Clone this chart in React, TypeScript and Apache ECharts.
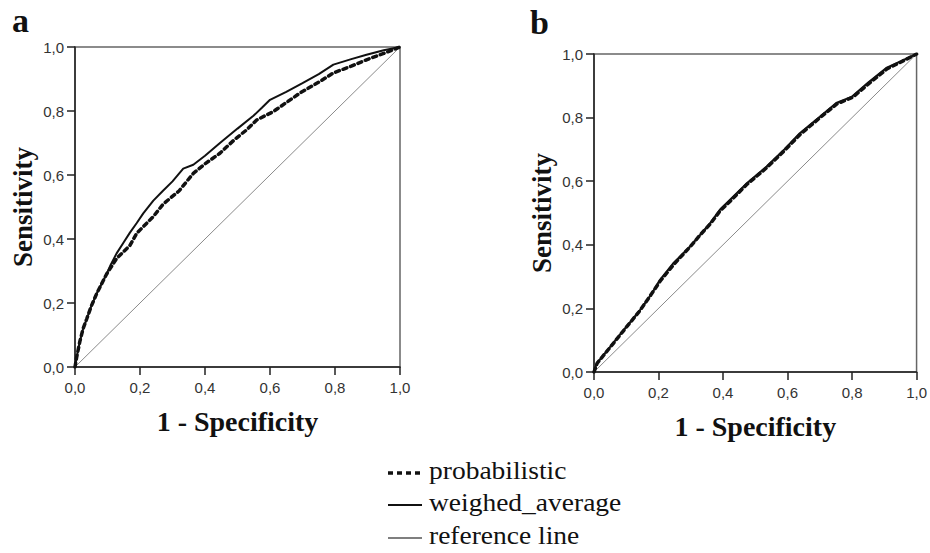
import React, { useEffect, useRef } from "react";
import * as echarts from "echarts";

// Panel a — ROC points [1 - specificity, sensitivity]
const weighedA: number[][] = [
  [0, 0], [0.005, 0.03], [0.015, 0.08], [0.025, 0.12], [0.036, 0.15], [0.05, 0.19],
  [0.067, 0.23], [0.082, 0.26], [0.097, 0.29], [0.11, 0.32], [0.128, 0.355], [0.15, 0.39],
  [0.169, 0.42], [0.19, 0.45], [0.21, 0.48], [0.241, 0.52], [0.27, 0.55], [0.3, 0.58],
  [0.333, 0.62], [0.364, 0.632], [0.4, 0.66], [0.446, 0.7], [0.5, 0.745], [0.549, 0.785],
  [0.575, 0.81], [0.6, 0.835], [0.65, 0.86], [0.7, 0.887], [0.75, 0.915], [0.795, 0.945],
  [0.85, 0.962], [0.897, 0.976], [0.95, 0.99], [1, 1],
];
const probabilisticA: number[][] = [
  [0, 0], [0.005, 0.03], [0.015, 0.08], [0.025, 0.12], [0.036, 0.15], [0.05, 0.19],
  [0.067, 0.23], [0.097, 0.29], [0.128, 0.339], [0.169, 0.38], [0.19, 0.418], [0.241, 0.47],
  [0.272, 0.51], [0.32, 0.55], [0.364, 0.605], [0.4, 0.635], [0.446, 0.668], [0.49, 0.71],
  [0.528, 0.741], [0.559, 0.772], [0.61, 0.798], [0.692, 0.856], [0.75, 0.89], [0.795, 0.919],
  [0.85, 0.94], [0.897, 0.96], [0.95, 0.98], [1, 1],
];

// Panel b
const weighedB: number[][] = [
  [0, 0], [0.008, 0.026], [0.05, 0.079], [0.091, 0.131], [0.142, 0.194], [0.175, 0.24],
  [0.204, 0.289], [0.245, 0.341], [0.297, 0.394], [0.328, 0.43], [0.359, 0.467], [0.39, 0.51],
  [0.421, 0.541], [0.47, 0.59], [0.535, 0.646], [0.59, 0.7], [0.638, 0.751], [0.7, 0.803],
  [0.751, 0.846], [0.8, 0.866], [0.85, 0.91], [0.906, 0.956], [0.95, 0.977], [1, 1],
];
const probabilisticB: number[][] = [
  [0, 0], [0.01, 0.028], [0.052, 0.08], [0.09, 0.128], [0.14, 0.19], [0.176, 0.242],
  [0.206, 0.287], [0.247, 0.338], [0.3, 0.396], [0.33, 0.432], [0.36, 0.465], [0.392, 0.508],
  [0.423, 0.538], [0.472, 0.588], [0.537, 0.644], [0.592, 0.698], [0.64, 0.748], [0.702, 0.801],
  [0.753, 0.843], [0.802, 0.864], [0.852, 0.907], [0.908, 0.953], [0.952, 0.975], [1, 1],
];

const referenceLine: number[][] = [[0, 0], [1, 1]];

const legendLabels = ["probabilistic", "weighed_average", "reference line"];
const panelLabels = ["a", "b"];
const xTitle = "1 - Specificity";
const yTitle = "Sensitivity";

export default function App() {
  const ref = useRef<HTMLDivElement>(null);

  useEffect(() => {
    if (!ref.current) return;
    const chart = echarts.init(ref.current, undefined, { renderer: "svg" });
    const fmt = (v: number) => v.toFixed(1).replace(".", ",");
    const serif = "'Liberation Serif', 'Times New Roman', serif";
    const sans = "'Liberation Sans', Arial, sans-serif";

    const mkX = (gridIndex: number) => ({
      type: "value" as const,
      gridIndex,
      min: 0,
      max: 1,
      interval: 0.2,
      name: xTitle,
      nameLocation: "middle" as const,
      nameGap: 40,
      nameTextStyle: { fontFamily: serif, fontWeight: "bold" as const, fontSize: 28, color: "#111" },
      axisLine: { show: true, lineStyle: { color: "#222", width: 1.5 } },
      axisTick: { show: true, length: 8, lineStyle: { color: "#222", width: 1.5 } },
      axisLabel: { formatter: fmt, fontFamily: sans, fontSize: 15, color: "#333", margin: 13 },
      splitLine: { show: false },
    });
    const mkY = (gridIndex: number) => ({
      type: "value" as const,
      gridIndex,
      min: 0,
      max: 1,
      interval: 0.2,
      name: yTitle,
      nameLocation: "middle" as const,
      nameGap: 39,
      nameTextStyle: { fontFamily: serif, fontWeight: "bold" as const, fontSize: 27, color: "#111" },
      axisLine: { show: true, lineStyle: { color: "#222", width: 1.5 } },
      axisTick: { show: true, length: 8, lineStyle: { color: "#222", width: 1.5 } },
      axisLabel: { formatter: fmt, fontFamily: sans, fontSize: 15, color: "#333", margin: 11 },
      splitLine: { show: false },
    });

    const solid = (data: number[][], i: number) => ({
      type: "line" as const,
      xAxisIndex: i,
      yAxisIndex: i,
      data,
      showSymbol: false,
      symbol: "none",
      lineStyle: { color: "#111", width: 2 },
      z: 3,
    });
    const dashed = (data: number[][], i: number) => ({
      type: "line" as const,
      xAxisIndex: i,
      yAxisIndex: i,
      data,
      showSymbol: false,
      symbol: "none",
      lineStyle: { color: "#111", width: 3.5, type: [4, 4], cap: "round" as const },
      z: 4,
    });
    const refl = (i: number) => ({
      type: "line" as const,
      xAxisIndex: i,
      yAxisIndex: i,
      data: referenceLine,
      showSymbol: false,
      symbol: "none",
      lineStyle: { color: "#8a8a8a", width: 1 },
      z: 2,
    });

    const legendX0 = 388;
    const legendX1 = 422;
    const rowsY = [473, 505, 538];
    const legendGraphics: any[] = [];
    legendLabels.forEach((lab, k) => {
      const y = rowsY[k];
      legendGraphics.push({
        type: "line",
        shape: { x1: legendX0, y1: y, x2: legendX1, y2: y },
        style:
          k === 0
            ? { stroke: "#111", lineWidth: 3.5, lineDash: [5, 4] }
            : k === 1
            ? { stroke: "#111", lineWidth: 2 }
            : { stroke: "#555", lineWidth: 1.5 },
      });
      legendGraphics.push({
        type: "text",
        x: 429,
        y: y - 2,
        scaleX: 1.1,
        style: {
          text: lab,
          font: `25px ${serif}`,
          fill: "#111",
          textVerticalAlign: "middle",
          verticalAlign: "middle",
        },
      });
    });

    chart.setOption({
      animation: false,
      backgroundColor: "#fff",
      grid: [
        { left: 75, top: 47, width: 325, height: 320, show: true, borderColor: "#666", borderWidth: 1.5, backgroundColor: "transparent" },
        { left: 594, top: 54, width: 323, height: 318, show: true, borderColor: "#666", borderWidth: 1.5, backgroundColor: "transparent" },
      ],
      xAxis: [mkX(0), mkX(1)],
      yAxis: [mkY(0), mkY(1)],
      series: [
        refl(0),
        solid(weighedA, 0),
        dashed(probabilisticA, 0),
        refl(1),
        solid(weighedB, 1),
        dashed(probabilisticB, 1),
      ],
      graphic: [
        { type: "text", x: 12, y: 3, style: { text: panelLabels[0], font: `bold 34px ${serif}`, fill: "#111" } },
        { type: "text", x: 530, y: 5, style: { text: panelLabels[1], font: `bold 34px ${serif}`, fill: "#111" } },
        ...legendGraphics,
      ],
    });
    return () => chart.dispose();
  }, []);

  return (
    <div
      ref={ref}
      style={{ position: "absolute", left: 0, top: 0, width: 930, height: 553, background: "#fff" }}
    />
  );
}
